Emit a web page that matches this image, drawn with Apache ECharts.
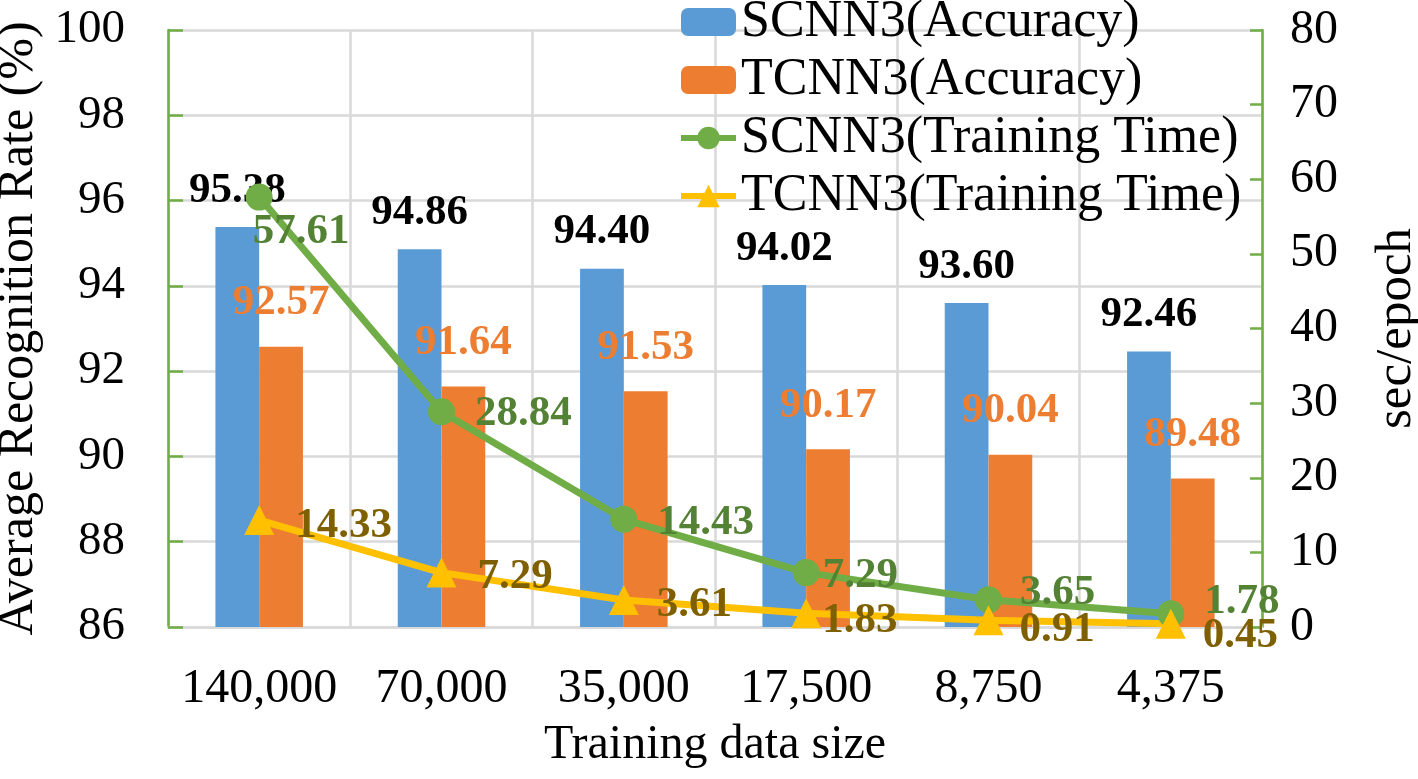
<!DOCTYPE html>
<html>
<head>
<meta charset="utf-8">
<script src="https://cdn.jsdelivr.net/npm/echarts@6/dist/echarts.min.js"></script>
<style>
html,body{margin:0;padding:0;background:#fff;}
#chart{width:1418px;height:779px;}
</style>
</head>
<body>
<div id="chart"></div>
<script>
const categories = ['140,000','70,000','35,000','17,500','8,750','4,375'];
const scnnAccuracy = [95.38, 94.86, 94.40, 94.02, 93.60, 92.46];
const tcnnAccuracy = [92.57, 91.64, 91.53, 90.17, 90.04, 89.48];
const scnnTime = [57.61, 28.84, 14.43, 7.29, 3.65, 1.78];
const tcnnTime = [14.33, 7.29, 3.61, 1.83, 0.91, 0.45];
const leftTicks = {min: 86, max: 100, interval: 2};
const rightTicks = {min: 0, max: 80, interval: 10};

// label placement tweaks (styling only)
const greenLabelOffsets = [[-40,35],[0,2],[0,4],[-17,3],[-2,-7],[0,-12]];
const yellowLabelOffsets = [[1,6],[1,4],[-2,5],[-19,8],[-4,10],[-3,12]];

const FONT = 'Liberation Serif';
const chart = echarts.init(document.getElementById('chart'));

function withOffsets(values, offsets){
  return values.map((v,i)=>({value:v, label:{offset:offsets[i]}}));
}

chart.setOption({
  animation:false,
  backgroundColor:'#fff',
  textStyle:{fontFamily:FONT},
  grid:{left:168, right:156, top:30, bottom:152, containLabel:false, outerBoundsMode:'none'},
  legend:{
    orient:'vertical', left:678, top:-4, itemGap:6, padding:0,
    itemWidth:55, itemHeight:28,
    lineStyle:{width:6},
    textStyle:{fontFamily:FONT, fontSize:52, color:'#000', lineHeight:52},
    data:['SCNN3(Accuracy)','TCNN3(Accuracy)','SCNN3(Training Time)','TCNN3(Training Time)']
  },
  xAxis:{
    type:'category', data:categories,
    name:'Training data size', nameLocation:'middle', nameGap:94,
    nameTextStyle:{fontFamily:FONT, fontSize:48, color:'#000'},
    axisLine:{lineStyle:{color:'#d9d9d9', width:2.5}},
    axisTick:{show:false},
    axisLabel:{fontFamily:FONT, fontSize:48, color:'#000', margin:38, interval:0},
    splitLine:{show:true, interval:0, lineStyle:{color:'#d9d9d9', width:2.5}}
  },
  yAxis:[{
    type:'value', min:leftTicks.min, max:leftTicks.max, interval:leftTicks.interval,
    name:'Average Recognition Rate (%)', nameLocation:'middle', nameGap:106, nameRotate:90,
    nameTextStyle:{fontFamily:FONT, fontSize:50, color:'#000'},
    axisLine:{show:true, lineStyle:{color:'#70AD47', width:2.5}},
    axisTick:{show:true, inside:true, length:15, lineStyle:{color:'#70AD47', width:2.5}},
    axisLabel:{fontFamily:FONT, fontSize:47, color:'#000', margin:43},
    splitLine:{show:true, lineStyle:{color:'#d9d9d9', width:2.5}}
  },{
    type:'value', min:rightTicks.min, max:rightTicks.max, interval:rightTicks.interval,
    position:'right',
    name:'sec/epoch', nameLocation:'middle', nameGap:109, nameRotate:90,
    nameTextStyle:{fontFamily:FONT, fontSize:51, color:'#000'},
    axisLine:{show:true, lineStyle:{color:'#70AD47', width:2.5}},
    axisTick:{show:true, inside:true, length:12, lineStyle:{color:'#70AD47', width:2.5}},
    axisLabel:{fontFamily:FONT, fontSize:48, color:'#000', margin:28},
    splitLine:{show:false}
  }],
  series:[{
    name:'SCNN3(Accuracy)', type:'bar', yAxisIndex:0, data:scnnAccuracy,
    barGap:'0%', barCategoryGap:'52%',
    itemStyle:{color:'#5B9BD5'},
    label:{show:true, position:'top', distance:15, fontFamily:FONT, fontWeight:'bold', fontSize:43, color:'#000',
      formatter:p=>p.value.toFixed(2)}
  },{
    name:'TCNN3(Accuracy)', type:'bar', yAxisIndex:0, data:tcnnAccuracy,
    itemStyle:{color:'#ED7D31'},
    label:{show:true, position:'top', distance:22, fontFamily:FONT, fontWeight:'bold', fontSize:43, color:'#ED7D31',
      formatter:p=>p.value.toFixed(2)}
  },{
    name:'SCNN3(Training Time)', type:'line', yAxisIndex:1, data:withOffsets(scnnTime, greenLabelOffsets),
    symbol:'circle', symbolSize:27,
    lineStyle:{color:'#70AD47', width:7}, itemStyle:{color:'#70AD47'},
    label:{show:true, position:'right', distance:20, fontFamily:FONT, fontWeight:'bold', fontSize:43, color:'#548235',
      formatter:p=>p.value.toFixed(2)}
  },{
    name:'TCNN3(Training Time)', type:'line', yAxisIndex:1, data:withOffsets(tcnnTime, yellowLabelOffsets),
    symbol:'triangle', symbolSize:30,
    lineStyle:{color:'#FFC000', width:7}, itemStyle:{color:'#FFC000'},
    label:{show:true, position:'right', distance:20, fontFamily:FONT, fontWeight:'bold', fontSize:43, color:'#7F6000',
      formatter:p=>p.value.toFixed(2)}
  }]
});
</script>
</body>
</html>
